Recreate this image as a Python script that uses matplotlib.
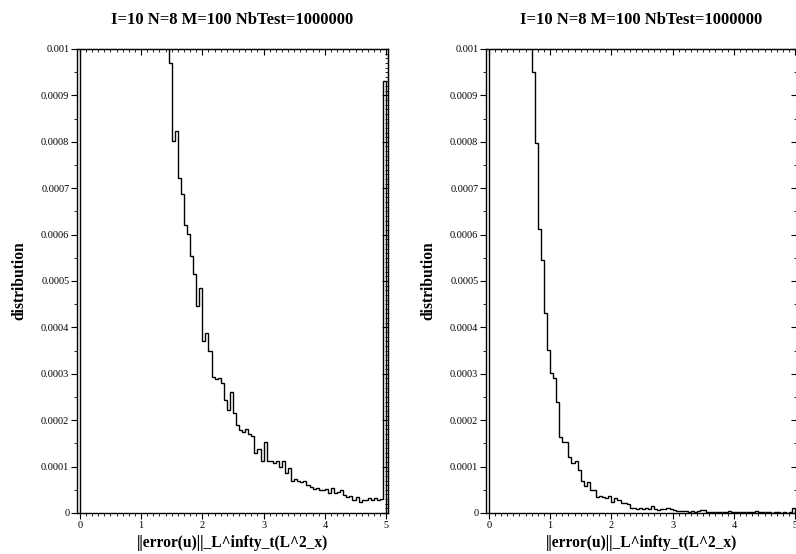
import numpy as np
import matplotlib
matplotlib.use("Agg")
import matplotlib.pyplot as plt
from matplotlib.ticker import MultipleLocator, FuncFormatter

plt.rcParams["font.family"] = ["Liberation Serif", "DejaVu Serif"]

title = "I=10 N=8 M=100 NbTest=1000000"
xlabel = "||error(u)||_L^infty_t(L^2_x)"
ylabel = "distribution"

# histogram range and number of bins (M=100)
x_min, x_max, n_bins = 0.0, 5.0, 100

# left panel: bin values (bins 0.00 .. 4.95), first ones are above the visible range
left_values = [
    0.0050, 0.0120, 0.0210, 0.0300, 0.0380, 0.0440, 0.0480, 0.0500, 0.0500, 0.0490,
    0.0470, 0.0440, 0.0410, 0.0370, 0.0330, 0.0290, 0.0250, 0.0210, 0.0175, 0.0145,
    0.0118, 0.0095, 0.0075, 0.0058, 0.0045, 0.0034, 0.0025, 0.0018, 0.0013, 0.00097,
    0.000802, 0.000824, 0.000721, 0.000688, 0.000621, 0.000601, 0.000553, 0.000515, 0.000446, 0.000484,
    0.000371, 0.000387, 0.000349, 0.000294, 0.000289, 0.000290, 0.000281, 0.000244, 0.000223, 0.000261,
    0.000216, 0.000190, 0.000179, 0.000175, 0.000180, 0.000170, 0.000167, 0.000130, 0.000139, 0.000112,
    0.000154, 0.000113, 0.000111, 0.000108, 0.000111, 0.000100, 0.000111, 0.000087, 0.000096, 0.000070,
    0.000073, 0.000070, 0.000066, 0.000070, 0.000060, 0.000055, 0.000051, 0.000053, 0.000050, 0.000050,
    0.000052, 0.000044, 0.000053, 0.000044, 0.000046, 0.000050, 0.000039, 0.000035, 0.000037, 0.000029,
    0.000034, 0.000024, 0.000028, 0.000029, 0.000033, 0.000028, 0.000033, 0.000027, 0.000031, 0.000930,
]

# right panel: bin values (bins 0.00 .. 4.95)
right_values = [
    0.0300, 0.0650, 0.0900, 0.1050, 0.1100, 0.1050, 0.0950, 0.0820, 0.0680, 0.0540,
    0.0410, 0.0300, 0.0210, 0.0140, 0.000951, 0.000797, 0.000611, 0.000545, 0.000432, 0.000351,
    0.000301, 0.000290, 0.000239, 0.000163, 0.000154, 0.000152, 0.000121, 0.000108, 0.000111, 0.000093,
    0.000068, 0.000058, 0.000066, 0.000050, 0.000050, 0.000034, 0.000037, 0.000034, 0.000032, 0.000037,
    0.000024, 0.000033, 0.000027, 0.000022, 0.000021, 0.000019, 0.000011, 0.000010, 0.000009, 0.000011,
    0.000008, 0.000011, 0.000008, 0.000015, 0.000009, 0.000006, 0.000008, 0.000009, 0.000010, 0.000008,
    0.000006, 0.000005, 0.000004, 0.000005, 0.000004, 0.000003, 0.000004, 0.000003, 0.000004, 0.000006,
    0.000006, 0.000003, 0.000002, 0.000003, 0.000002, 0.000003, 0.000002, 0.000002, 0.000004, 0.000002,
    0.000002, 0.000003, 0.000002, 0.000002, 0.000002, 0.000002, 0.000003, 0.000004, 0.000002, 0.000003,
    0.000002, 0.000002, 0.000001, 0.000002, 0.000002, 0.000001, 0.000002, 0.000001, 0.000002, 0.000010,
]

edges = np.linspace(x_min, x_max, n_bins + 1)

fig = plt.figure(figsize=(7.96, 5.54), dpi=100)
W, H = 796, 554


def make_panel(left_px, values, right_minor):
    ax = fig.add_axes([left_px / W, 41 / H, 311 / W, 464 / H])
    ax.stairs(values, edges, color="black", linewidth=1.0)
    ax.set_xlim(-0.045, 5.03)
    ax.set_ylim(0, 0.001)

    ax.xaxis.set_major_locator(MultipleLocator(1))
    ax.xaxis.set_minor_locator(MultipleLocator(0.1))
    ax.yaxis.set_major_locator(MultipleLocator(0.0001))
    ax.yaxis.set_minor_locator(MultipleLocator(0.00005))
    ax.yaxis.set_major_formatter(FuncFormatter(lambda v, p: "%g" % round(v, 6)))
    ax.tick_params(which="major", direction="out", length=4, width=0.8,
                   labelsize=7.4, pad=1.5)
    ax.tick_params(which="minor", direction="out", length=2, width=0.6)

    # inward ticks on top and right sides
    top = ax.secondary_xaxis("top")
    top.xaxis.set_major_locator(MultipleLocator(1))
    top.xaxis.set_minor_locator(MultipleLocator(0.1))
    top.tick_params(which="major", direction="in", length=4, width=0.8, labeltop=False)
    top.tick_params(which="minor", direction="in", length=2, width=0.6)

    right = ax.secondary_yaxis("right")
    right.yaxis.set_major_locator(MultipleLocator(0.0001))
    right.yaxis.set_minor_locator(MultipleLocator(right_minor))
    right.tick_params(which="major", direction="in", length=4, width=0.8, labelright=False)
    right.tick_params(which="minor", direction="in", length=2.5, width=0.6)

    for sp in ax.spines.values():
        sp.set_linewidth(1.0)

    ax.set_title(title, fontsize=12, fontweight="bold", pad=18)
    ax.set_xlabel(xlabel, fontsize=11.2, fontweight="bold", labelpad=4)
    ax.set_ylabel(ylabel, fontsize=11.2, fontweight="bold", labelpad=10)
    return ax


make_panel(77, left_values, 0.00001)
make_panel(486, right_values, 0.00005)

fig.savefig("out.png", dpi=100)
